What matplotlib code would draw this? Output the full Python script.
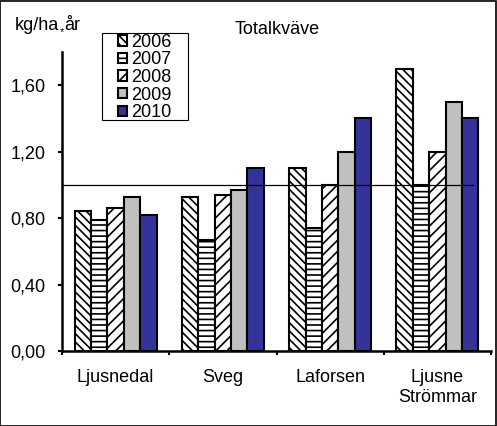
import matplotlib
matplotlib.use("Agg")
import matplotlib.pyplot as plt
import numpy as np
from matplotlib.patches import Rectangle, Patch

categories = ["Ljusnedal", "Sveg", "Laforsen", "Ljusne\nStrömmar"]
years = ["2006", "2007", "2008", "2009", "2010"]
values = {
    "2006": [0.84, 0.93, 1.10, 1.70],
    "2007": [0.79, 0.67, 0.74, 1.00],
    "2008": [0.86, 0.94, 1.00, 1.20],
    "2009": [0.93, 0.97, 1.20, 1.50],
    "2010": [0.82, 1.10, 1.40, 1.40],
}
ref_value = 1.0
yticks = [0.0, 0.4, 0.8, 1.2, 1.6]

styles = {
    "2006": dict(facecolor="white", hatch="\\\\\\\\"),
    "2007": dict(facecolor="white", hatch="---"),
    "2008": dict(facecolor="white", hatch="///"),
    "2009": dict(facecolor="#C0C0C0", hatch=None),
    "2010": dict(facecolor="#333399", hatch=None),
}

FS = 13
plt.rcParams["font.family"] = ["Liberation Sans", "DejaVu Sans"]
plt.rcParams["hatch.linewidth"] = 1.2
plt.rcParams["hatch.color"] = "black"

fig = plt.figure(figsize=(4.97, 4.26), dpi=100)
ax = fig.add_axes([62/497, 1-351/426, (491-62)/497, (351-52)/426])

x = np.arange(len(categories))
w = 0.153
for i, y in enumerate(years):
    st = styles[y]
    ax.bar(x + (i - 2) * w, values[y], width=w, facecolor=st["facecolor"],
           hatch=st["hatch"], edgecolor="black", linewidth=1.5, label=y, zorder=2)

ax.axhline(ref_value, xmin=0, xmax=(473-62)/(491-62), color="black", linewidth=0.9, zorder=3)

ax.set_xlim(-0.5, len(categories) - 0.5)
ax.set_ylim(0, 1.8)
ax.set_yticks(yticks)
ax.set_yticklabels([f"{v:.2f}".replace(".", ",") for v in yticks], fontsize=FS)
ax.set_xticks(x)
ax.set_xticklabels(categories, fontsize=FS, linespacing=1.25)
ax.set_xticks(np.arange(len(categories) + 1) - 0.5, minor=True)
ax.tick_params(axis="x", which="major", length=0, pad=13)
ax.tick_params(axis="x", which="minor", length=3, width=1.5, direction="out")
ax.tick_params(axis="y", length=3, width=1.5, direction="out", pad=9)
for s in ["top", "right"]:
    ax.spines[s].set_visible(False)
for s in ["left", "bottom"]:
    ax.spines[s].set_linewidth(1.8)

fig.text(277/497, 1-30/426, "Totalkväve", ha="center", va="center", fontsize=FS)

# y unit label: kg/ha * år with a small star
fig.canvas.draw()
r = fig.canvas.get_renderer()
t1 = fig.text(15/497, 1-30/426, "kg/ha", ha="left", va="baseline", fontsize=FS)
bb = t1.get_window_extent(r)
t2 = fig.text((bb.x1 + 0.3)/497, 1-35/426, "*", ha="left", va="baseline", fontsize=8)
bb2 = t2.get_window_extent(r)
fig.text((bb2.x1 + 0.3)/497, 1-30/426, "år", ha="left", va="baseline", fontsize=FS)

# legend
handles = [Patch(facecolor=styles[y]["facecolor"], hatch=styles[y]["hatch"],
                 edgecolor="black", linewidth=1.5) for y in years]
leg = fig.legend(handles, years, loc="upper left", bbox_to_anchor=(117/497, 1-33/426),
                 frameon=False, fontsize=FS, handlelength=0.5, handleheight=0.5,
                 handletextpad=0.25, labelspacing=0.03, borderpad=0.05, borderaxespad=0)
fig.patches.append(Rectangle((102/497, 1-120/426), 86/497, 87/426, transform=fig.transFigure,
                             facecolor="none", edgecolor="black", linewidth=0.8))

# outer border
fig.patches.append(Rectangle((0.001, 0.001), 0.997, 0.997, transform=fig.transFigure,
                             facecolor="none", edgecolor="black", linewidth=1.2))

fig.savefig("out.png", dpi=100)
